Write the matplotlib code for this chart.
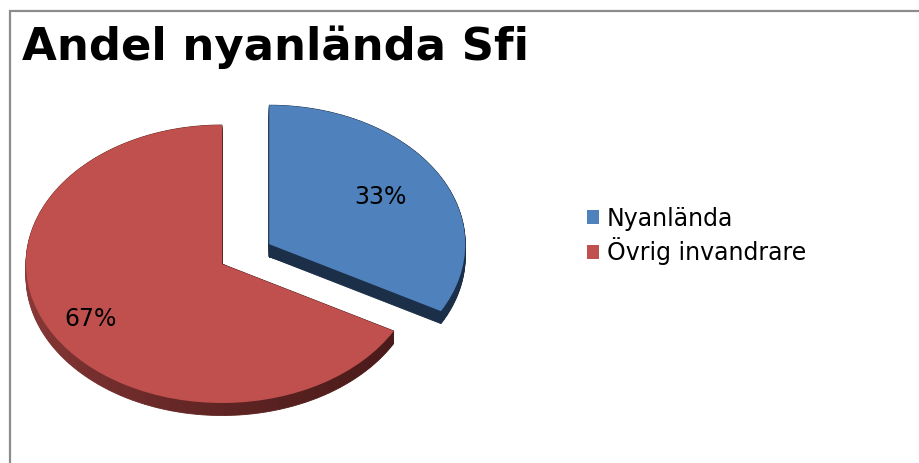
import numpy as np
import matplotlib
matplotlib.use('Agg')
import matplotlib.pyplot as plt
from matplotlib.patches import Wedge, Rectangle
from matplotlib.colors import to_rgb

# data
labels = ['Nyanlända', 'Övrig invandrare']
shares = [33, 67]
top_colors = ['#4F81BD', '#C0504D']
side_light = ['#2a4466', '#8e3b39']
side_dark = ['#1c2f48', '#4a1a1a']
explode = [0.28, 0]

W, H = 920, 463
# pie placement in pixels (centre of the red slice and ellipse radii)
cx, cy = 222, 264
rx, ry = 196, 139
depth = 0.09

fig = plt.figure(figsize=(W / 100, H / 100), dpi=100)
ax = fig.add_axes([0, 0, 1, 1])

wedges, _ = ax.pie(shares, colors=top_colors, explode=explode, startangle=90,
                   counterclock=False, wedgeprops=dict(linewidth=0))
for w in wedges:
    w.set_zorder(3)


def shade(light, dark, ang):
    # lighter on the left of the pie, darker to the right
    t = np.clip((np.cos(np.deg2rad(ang)) + 1) / 1.9, 0, 1) ** 0.6
    return tuple(np.array(to_rgb(light)) * (1 - t) + np.array(to_rgb(dark)) * t)


# side walls: stack of slightly shifted copies under each slice
for w, lc, dc in zip(wedges, side_light, side_dark):
    x0, y0 = w.center
    angs = np.linspace(w.theta1, w.theta2, 61)
    for d in np.linspace(depth, 0, 14):
        for a1, a2 in zip(angs[:-1], angs[1:]):
            col = shade(lc, dc, (a1 + a2) / 2)
            ax.add_patch(Wedge((x0, y0 - d), 1, a1, a2, facecolor=col,
                               edgecolor=col, lw=0.6, zorder=1))

# percentage labels
r_lab = [0.66, 0.78]
for w, s, r in zip(wedges, shares, r_lab):
    mid = np.deg2rad((w.theta1 + w.theta2) / 2)
    ax.text(w.center[0] + r * np.cos(mid), w.center[1] + r * np.sin(mid),
            f'{s}%', ha='center', va='center', fontsize=17, zorder=4)

ax.set_aspect('auto')
ax.set_xlim(-cx / rx, (W - cx) / rx)
ax.set_ylim(-(H - cy) / ry, cy / ry)
ax.axis('off')

fig.text(22 / W, 1 - 60 / H, 'Andel nyanlända Sfi', fontsize=32.4,
         fontweight='bold', va='baseline')

fig.add_artist(Rectangle((10 / W, -0.05), 1.0, 1 - 11 / H + 0.05,
                         transform=fig.transFigure, fill=False,
                         edgecolor='#8c8c8c', lw=1.6))

fig.legend(wedges, labels, loc='center left', bbox_to_anchor=(587 / W, 1 - 236 / H),
           frameon=False, fontsize=17, handlelength=0.5, handleheight=0.5,
           handletextpad=0.35, labelspacing=0.3, borderpad=0, borderaxespad=0)

fig.savefig('out.png', dpi=100)
